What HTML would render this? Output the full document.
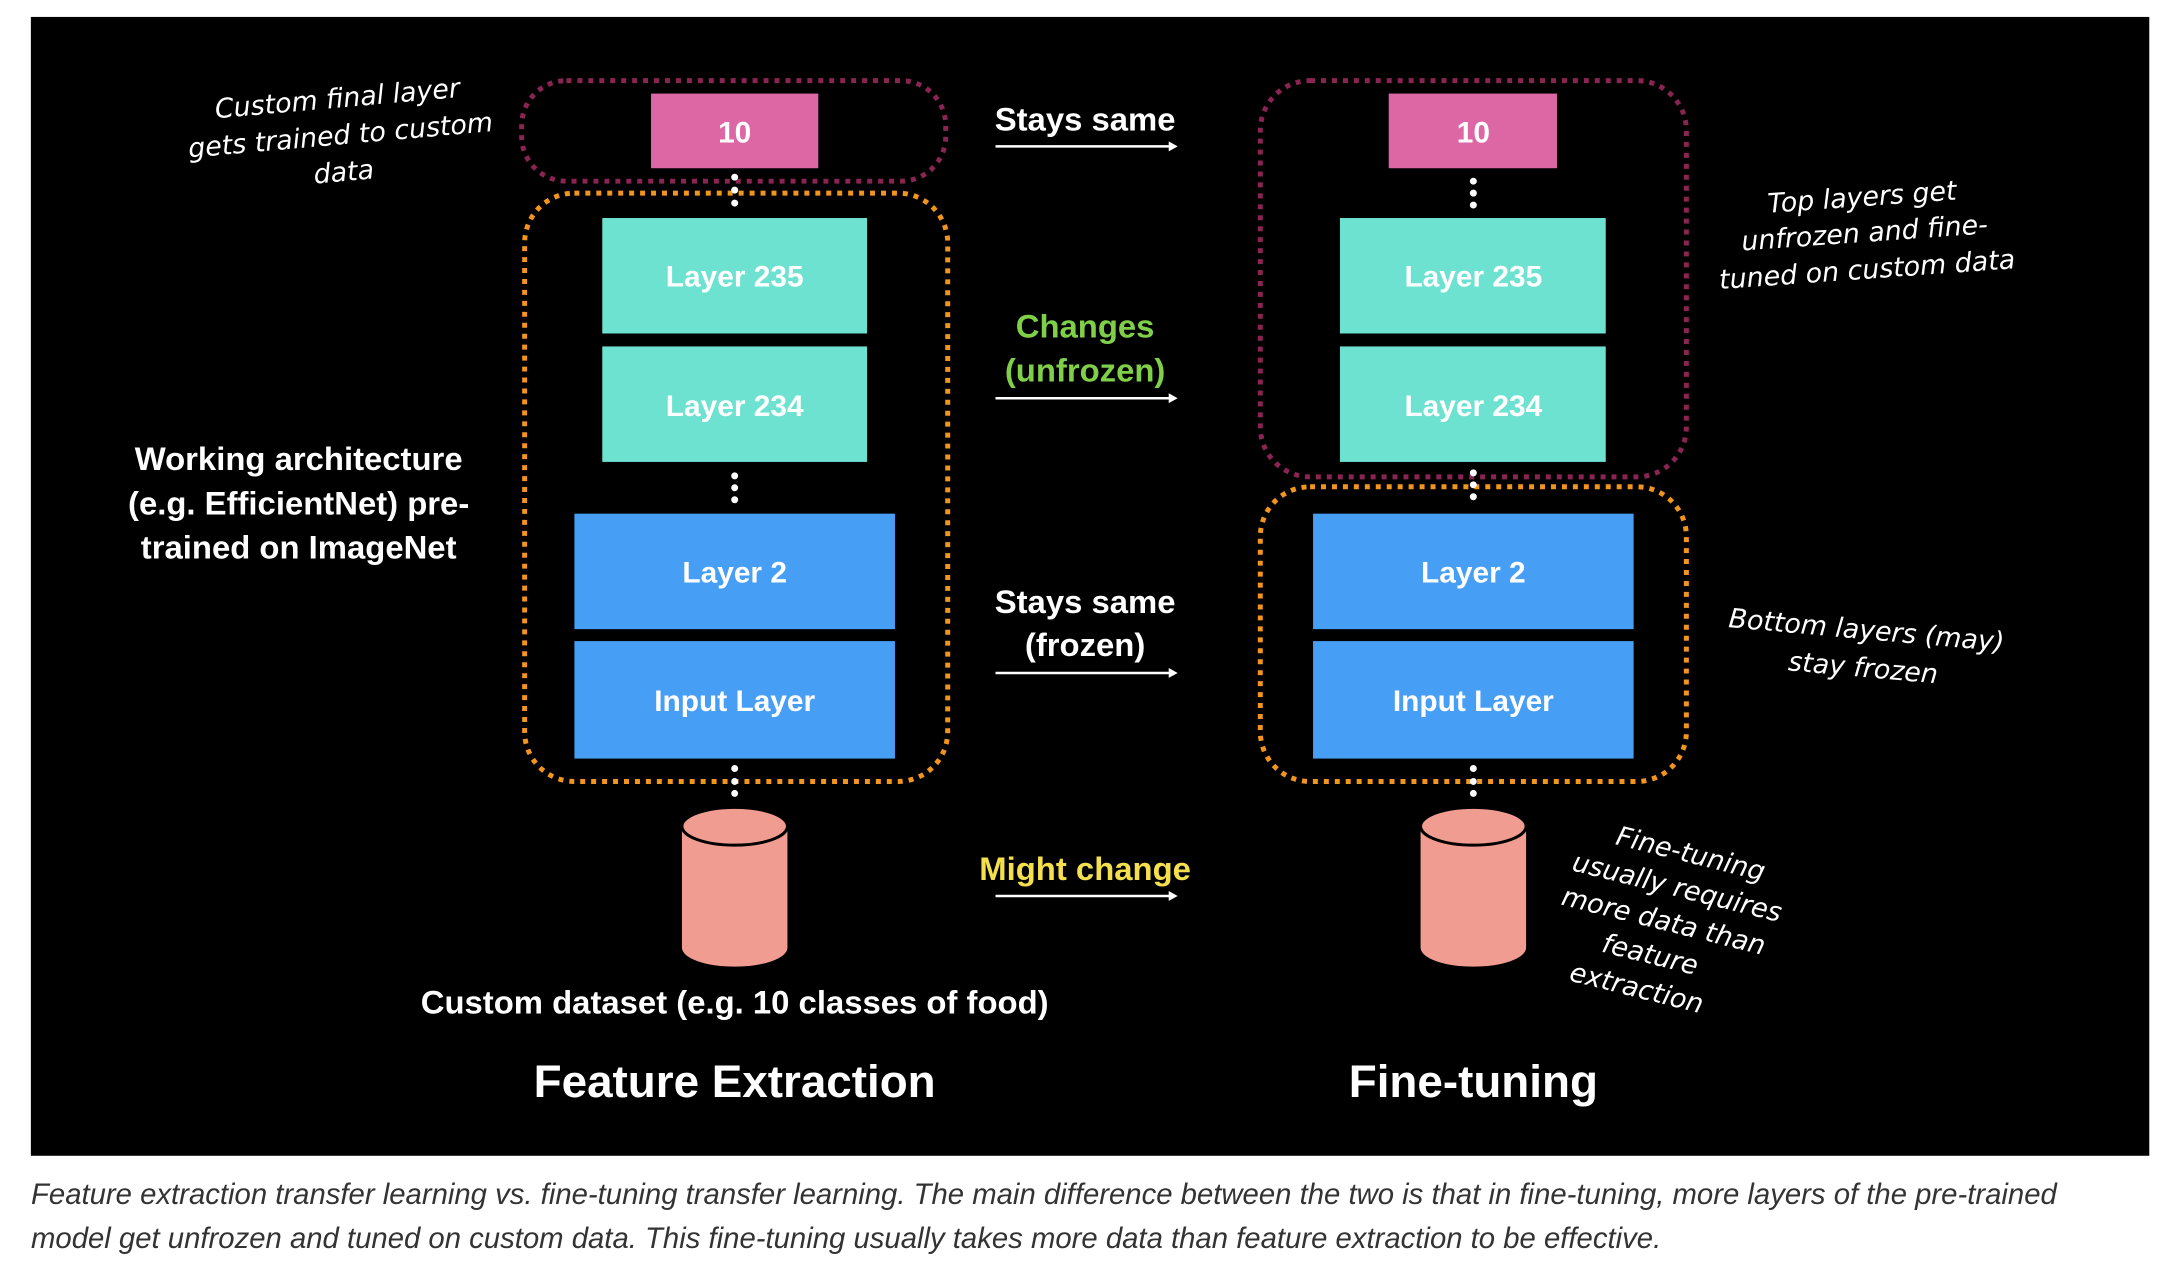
<!DOCTYPE html>
<html><head><meta charset="utf-8"><style>
body{margin:0;width:2180px;height:1264px;background:#fff;position:relative;overflow:hidden;font-family:"Liberation Sans",sans-serif}
svg{position:absolute;left:0;top:0}
.cap{position:absolute;left:31px;font-style:italic;color:#333;font-size:29.3px;white-space:nowrap}
</style></head><body>
<svg width="2180" height="1264" viewBox="0 0 2180 1264">
<g transform="scale(0.9955)">
<rect x="31" y="17" width="2128" height="1144" fill="#000"/>
<g font-family="Liberation Sans, sans-serif" font-weight="bold" fill="#fff" text-anchor="middle" font-size="30">
<rect x="524" y="81" width="426" height="101" rx="45" fill="none" stroke="#8a2452" stroke-width="5" stroke-dasharray="5 6"/>
<rect x="527" y="194" width="425" height="591" rx="50" fill="none" stroke="#f2951f" stroke-width="5" stroke-dasharray="5 6"/>
<rect x="654" y="94" width="168" height="75" fill="#dd67a4"/><text x="738" y="143">10</text>
<rect x="605" y="219" width="266" height="116" fill="#6ee2d0"/><text x="738" y="288">Layer 235</text>
<rect x="605" y="348" width="266" height="116" fill="#6ee2d0"/><text x="738" y="418">Layer 234</text>
<rect x="577" y="516" width="322" height="116" fill="#479ef5"/><text x="738" y="585">Layer 2</text>
<rect x="577" y="644" width="322" height="118" fill="#479ef5"/><text x="738" y="714">Input Layer</text>
<g fill="#fff"><circle cx="738" cy="178" r="3.5"/><circle cx="738" cy="191" r="3.5"/><circle cx="738" cy="204" r="3.5"/>
<circle cx="738" cy="478" r="3.5"/><circle cx="738" cy="490" r="3.5"/><circle cx="738" cy="502" r="3.5"/>
<circle cx="738" cy="772" r="3.5"/><circle cx="738" cy="785" r="3.5"/><circle cx="738" cy="797" r="3.5"/></g>
<path d="M685 830 V952 A53 19 0 0 0 791 952 V830" fill="#f09c90"/>
<ellipse cx="738" cy="830" rx="53" ry="19" fill="#f09c90" stroke="#000" stroke-width="3"/>
<rect x="1266" y="81" width="428" height="398" rx="50" fill="none" stroke="#8a2452" stroke-width="5" stroke-dasharray="5 6"/>
<rect x="1266" y="489" width="428" height="296" rx="50" fill="none" stroke="#f2951f" stroke-width="5" stroke-dasharray="5 6"/>
<rect x="1395" y="94" width="169" height="75" fill="#dd67a4"/><text x="1480" y="143">10</text>
<rect x="1346" y="219" width="267" height="116" fill="#6ee2d0"/><text x="1480" y="288">Layer 235</text>
<rect x="1346" y="348" width="267" height="116" fill="#6ee2d0"/><text x="1480" y="418">Layer 234</text>
<rect x="1319" y="516" width="322" height="116" fill="#479ef5"/><text x="1480" y="585">Layer 2</text>
<rect x="1319" y="644" width="322" height="118" fill="#479ef5"/><text x="1480" y="714">Input Layer</text>
<g fill="#fff"><circle cx="1480" cy="182" r="3.5"/><circle cx="1480" cy="194" r="3.5"/><circle cx="1480" cy="206" r="3.5"/>
<circle cx="1480" cy="475" r="3.5"/><circle cx="1480" cy="487" r="3.5"/><circle cx="1480" cy="499" r="3.5"/>
<circle cx="1480" cy="772" r="3.5"/><circle cx="1480" cy="785" r="3.5"/><circle cx="1480" cy="797" r="3.5"/></g>
<path d="M1427 830 V952 A53 19 0 0 0 1533 952 V830" fill="#f09c90"/>
<ellipse cx="1480" cy="830" rx="53" ry="19" fill="#f09c90" stroke="#000" stroke-width="3"/>
<g font-size="33">
<text x="1090" y="131">Stays same</text>
<text x="1090" y="339" fill="#7fd048">Changes</text>
<text x="1090" y="383" fill="#7fd048">(unfrozen)</text>
<text x="1090" y="616">Stays same</text>
<text x="1090" y="659">(frozen)</text>
<text x="1090" y="884" fill="#f4e04d">Might change</text>
</g>
<g stroke="#fff" stroke-width="2.5"><line x1="1000" y1="147" x2="1176" y2="147"/><line x1="1000" y1="400" x2="1176" y2="400"/><line x1="1000" y1="676" x2="1176" y2="676"/><line x1="1000" y1="900" x2="1176" y2="900"/></g>
<g fill="#fff"><path d="M1183 147 l-9 -5 v10z"/><path d="M1183 400 l-9 -5 v10z"/><path d="M1183 676 l-9 -5 v10z"/><path d="M1183 900 l-9 -5 v10z"/></g>
<g font-size="33">
<text x="300" y="472">Working architecture</text>
<text x="300" y="517">(e.g. EfficientNet) pre-</text>
<text x="300" y="561">trained on ImageNet</text>
<text x="738" y="1018">Custom dataset (e.g. 10 classes of food)</text>
</g>
<text x="738" y="1102" font-size="46">Feature Extraction</text>
<text x="1480" y="1102" font-size="46">Fine-tuning</text>
<g font-family="DejaVu Sans, sans-serif" font-weight="normal" font-style="italic" font-size="27">
<g transform="rotate(-5 342 135)"><text x="342" y="108">Custom final layer</text><text x="342" y="145">gets trained to custom</text><text x="342" y="182">data</text></g>
<g transform="rotate(-4 1873 235)"><text x="1873" y="207">Top layers get</text><text x="1873" y="243">unfrozen and fine-</text><text x="1873" y="280">tuned on custom data</text></g>
<g transform="rotate(5 1873 655)"><text x="1873" y="642">Bottom layers (may)</text><text x="1873" y="680">stay frozen</text></g>
<g transform="rotate(14 1670 930)"><text x="1680" y="862">Fine-tuning</text><text x="1675" y="898">usually requires</text><text x="1670" y="934">more data than</text><text x="1665" y="970">feature</text><text x="1660" y="1006">extraction</text></g>
</g>
</g>
</g>
</svg>
<div class="cap" style="top:1178px">Feature extraction transfer learning vs. fine-tuning transfer learning. The main difference between the two is that in fine-tuning, more layers of the pre-trained</div>
<div class="cap" style="top:1222px">model get unfrozen and tuned on custom data. This fine-tuning usually takes more data than feature extraction to be effective.</div>
</body></html>
